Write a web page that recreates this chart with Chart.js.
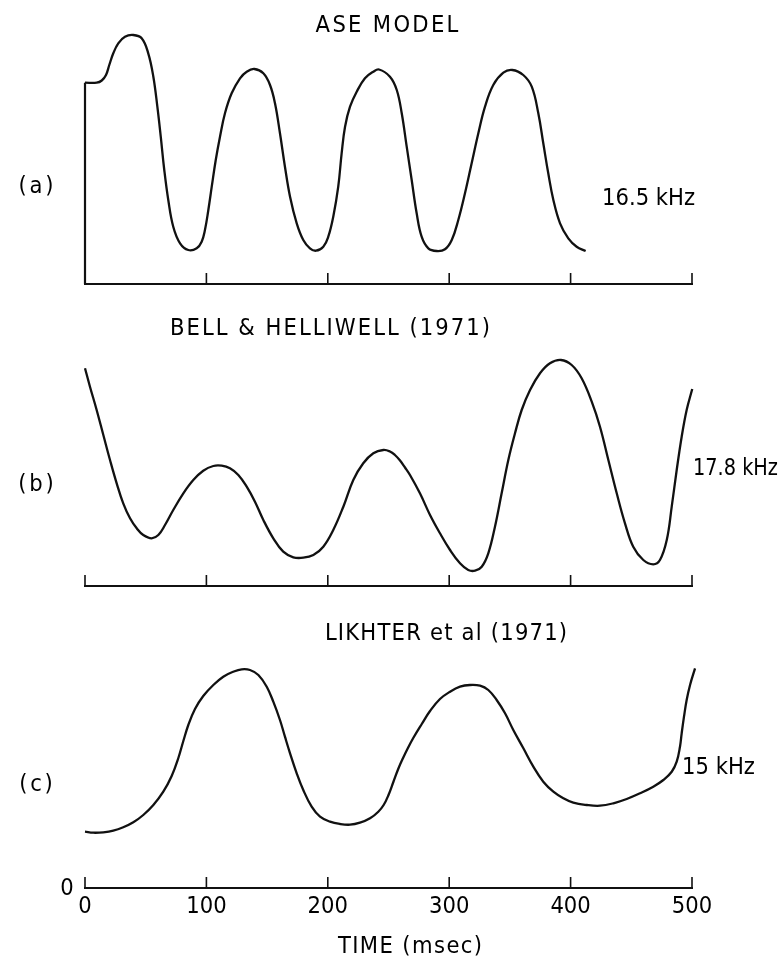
<!DOCTYPE html>
<html>
<head>
<meta charset="utf-8">
<script src="https://cdn.jsdelivr.net/npm/chart.js@4.4.1/dist/chart.umd.min.js"></script>
<style>
  html, body { margin: 0; padding: 0; background: #fff; }
  #wrap { position: relative; width: 779px; height: 957px; background: #fff; overflow: hidden; }
  #wrap canvas { position: absolute; left: 0; }
</style>
</head>
<body>
<div id="wrap">
  <canvas id="cA" width="779" height="300" style="top:0px"></canvas>
  <canvas id="cB" width="779" height="300" style="top:300px"></canvas>
  <canvas id="cC" width="779" height="357" style="top:600px"></canvas>
</div>
<script>
// ---------- DATA (time in msec, frequency trace height in relative units) ----------
const timeTicks = [0, 100, 200, 300, 400, 500];
const tickLabels = ['0', '100', '200', '300', '400', '500'];

// (a) ASE MODEL
const aseStartTime = [0, 0];
const aseStartFreq = [0, 201.3];
const aseTime = [0, 9.6, 13.8, 17.3, 20.0, 23.3, 27.4, 32.9, 39.8,
  46.7, 52.1, 56.3, 59.6, 62.4, 65.3, 68.6, 72.7, 78.3, 85.1,
  92.0, 96.1, 98.8, 101.6, 104.4, 107.7, 111.2, 115.3, 120.8, 127.7, 133.2, 139.5,
  146.9, 152.4, 156.5, 160.6, 164.7, 168.9, 174.4, 179.8, 185.3, 190.3,
  196.3, 200.4, 204.5, 208.6, 211.4, 214.2, 218.3, 223.8, 230.6, 237.5, 242.2,
  251.2, 256.8, 260.9, 265.0, 269.1, 273.2, 277.3, 282.8, 289.7,
  296.5, 302.1, 307.5, 313.0, 318.5, 324.0, 329.5, 336.3, 344.6, 352.0,
  361.0, 368.0, 373.4, 377.5, 381.6, 385.8, 391.3, 398.1, 405.0, 412.4];
const aseFreq = [201.3, 201.3, 203.5, 209, 219, 230.7, 240.7, 247.3, 249,
  245.7, 230.7, 207.3, 177.3, 147.3, 114, 84, 57.3, 40.7, 34,
  35.7, 42.3, 54, 74, 97.3, 124, 147.3, 170.7, 190.7, 205.7, 212.3, 215,
  210.7, 199, 180.7, 150.7, 117.3, 87.3, 60.7, 44, 35.7, 33.3,
  37.3, 47.3, 67.3, 97.3, 130.7, 157.3, 177.3, 192.3, 205.7, 212.3, 214.5,
  207.3, 194, 170.7, 137.3, 104, 70.7, 47.3, 35.7, 33,
  34.7, 44, 64, 90.7, 120.7, 150.7, 177.3, 199, 211.3, 214,
  209, 197.3, 170.7, 140.7, 110.7, 84, 60.7, 45.7, 37.3, 33];

// (b) BELL & HELLIWELL (1971)
const bhTime = [0, 4.1, 9.6, 15.1, 20.6, 26.1, 31.5, 37.1, 42.6, 48.0, 54.9,
  60.4, 65.9, 72.7, 81.0, 89.2, 97.4, 105.7, 112.6, 119.4, 126.3, 133.2, 140.0,
  146.9, 155.1, 163.3, 171.6, 179.8, 188.1, 196.3, 204.5, 212.8, 221.0, 229.2,
  237.5, 245.7, 251.2, 255.3, 259.5, 263.6, 267.7, 275.9, 284.2, 292.4, 300.7, 308.9, 315.7,
  321.3, 326.8, 332.2, 337.7, 343.2, 348.7, 354.2, 359.7, 366.6, 374.8, 383.0,
  392.1, 400.9, 409.1, 417.4, 424.2, 431.1, 438.0, 444.8, 451.6, 459.9, 468.1,
  473.6, 479.2, 483.3, 487.4, 491.5, 495.6, 500.2];
const bhFreq = [217.7, 199.3, 176, 151, 126, 102.7, 82.7, 67.7, 57.7, 51, 47.7,
  51, 61, 76, 92.7, 106, 115.3, 120, 120.3, 117.7, 111, 99.3, 84.3,
  66, 47.7, 34.3, 28.7, 28.3, 31, 39.3, 56, 79.3, 106, 122.7,
  132.7, 136, 134.5, 131, 125.5, 118.5, 111, 92.7, 71, 52.7, 36, 22.7, 16,
  15.3, 19.3, 32.7, 59.3, 92.7, 126, 152.7, 176, 196, 212.7, 222.7,
  226, 221, 207.7, 184.3, 159.3, 126, 92.7, 62.7, 39.3, 26, 21.7,
  26, 46, 79.3, 116, 149.3, 176, 197];

// (c) LIKHTER et al (1971)
const lkTime = [0, 6.8, 15.1, 23.3, 31.5, 39.8, 48.0, 56.3, 64.5, 71.4, 76.9,
  81.0, 85.1, 90.6, 97.4, 105.7, 113.9, 122.2, 129.1, 135.9, 142.8, 149.7,
  155.1, 160.6, 164.7, 168.9, 174.4, 179.8, 186.7, 193.6, 201.8, 210.0, 218.3,
  226.5, 234.8, 241.6, 246.0, 250.0, 254.0, 258.0, 262.0, 266.0, 270.4, 277.4, 284.2, 292.4,
  300.7, 308.9, 317.1, 325.4, 332.2, 339.1, 346.0, 352.8, 361.1, 369.3, 377.5,
  385.8, 394.0, 402.2, 413.3, 424.2, 435.2, 446.2, 457.2, 468.1, 476.4, 483.3,
  487.4, 490.1, 491.5, 493.4, 495.6, 498.4, 502.5];
const lkFreq = [56.3, 55.3, 55.7, 57.3, 60.7, 65.7, 73, 83, 96.3, 112, 130,
  147, 163, 179, 192, 203, 211.3, 216.3, 218.7, 218, 213, 201.3,
  186.3, 168, 151.3, 134.7, 114.7, 98, 81.3, 71.3, 66.3, 64, 63.3,
  65.3, 69.7, 76.3, 83, 93, 106, 119, 130, 140, 150, 164, 177, 189,
  196.3, 201.3, 203, 202.3, 198, 188, 174.7, 158, 139.7, 121.3, 106.3,
  96.3, 89.7, 85.3, 83, 82.3, 84.7, 89, 94.7, 101.3, 108, 116.3,
  126.3, 141.3, 154.7, 171.3, 188, 203, 219.7];

// ---------- helpers ----------
function pts(xs, ys) { return xs.map((x, i) => ({ x: x, y: ys[i] })); }

const FONT_FAMILY = '"DejaVu Sans", "Liberation Sans", sans-serif';
const FONT_SIZE = 23;
const FONT_SX = 0.92;

function drawText(ctx, text, x, yCenter, align, spacing, sx) {
  ctx.save();
  ctx.font = FONT_SIZE + 'px ' + FONT_FAMILY;
  ctx.textAlign = align || 'center';
  ctx.textBaseline = 'alphabetic';
  try { ctx.letterSpacing = (spacing || 0) + 'px'; } catch (e) {}
  ctx.translate(x, yCenter + 8.3);
  ctx.scale(sx || FONT_SX, 1);
  ctx.fillText(text, align === 'center' || !align ? (spacing || 0) / 2 : 0, 0);
  ctx.restore();
}

const panelDecor = {
  id: 'panelDecor',
  afterDatasetsDraw(chart, args, opts) {
    const ctx = chart.ctx;
    const xs = chart.scales.x, ys = chart.scales.y;
    const y0 = ys.getPixelForValue(0);
    ctx.save();
    ctx.strokeStyle = '#111';
    ctx.fillStyle = '#111';
    ctx.lineCap = 'butt';
    // baseline axis
    ctx.lineWidth = 2.2;
    ctx.beginPath();
    ctx.moveTo(xs.getPixelForValue(timeTicks[0]) - 1, y0);
    ctx.lineTo(xs.getPixelForValue(timeTicks[timeTicks.length - 1]) + 1, y0);
    ctx.stroke();
    // upward tick marks
    ctx.lineWidth = 1.6;
    ctx.beginPath();
    opts.ticks.forEach(t => {
      const x = xs.getPixelForValue(t);
      ctx.moveTo(x, y0);
      ctx.lineTo(x, y0 - 11);
    });
    ctx.stroke();
    ctx.restore();
    // tick labels
    if (opts.tickLabels) {
      timeTicks.forEach((t, i) => {
        drawText(ctx, tickLabels[i], xs.getPixelForValue(t), y0 + opts.tickLabelOffset, 'center', 0);
      });
    }
    // free texts
    opts.texts.forEach(t => {
      drawText(ctx, t.text, t.x, t.y - opts.offsetTop, t.align || 'center', t.spacing || 0, t.sx);
    });
  }
};

function makeChart(id, datasets, pad, decor) {
  return new Chart(document.getElementById(id), {
    type: 'line',
    data: { datasets: datasets },
    options: {
      responsive: false,
      animation: false,
      devicePixelRatio: 1,
      layout: { padding: pad },
      scales: {
        x: { type: 'linear', min: 0, max: 500, display: false },
        y: { type: 'linear', min: 0, max: 260, display: false }
      },
      elements: { point: { radius: 0 } },
      plugins: {
        legend: { display: false },
        tooltip: { enabled: false },
        title: { display: false },
        panelDecor: decor
      }
    },
    plugins: [panelDecor]
  });
}

function curve(label, data) {
  return {
    label: label,
    data: data,
    borderColor: '#111',
    borderWidth: 2.3,
    fill: false,
    pointRadius: 0,
    cubicInterpolationMode: 'default',
    tension: 0.4,
    borderJoinStyle: 'round',
    clip: false
  };
}

// (a)
makeChart('cA', [
  { label: 'ASE start', data: pts(aseStartTime, aseStartFreq), borderColor: '#111', borderWidth: 2.2, pointRadius: 0, tension: 0, fill: false, clip: false },
  curve('ASE MODEL', pts(aseTime, aseFreq))
], { left: 85, right: 87, top: 24, bottom: 16 }, {
  offsetTop: 0,
  ticks: [100, 200, 300, 400, 500],
  tickLabels: false,
  texts: [
    { text: 'ASE MODEL', x: 387, y: 24, spacing: 2.5 },
    { text: '(a)', x: 36, y: 185, spacing: 3 },
    { text: '16.5 kHz', x: 602, y: 197, align: 'left' }
  ]
});

// (b)
makeChart('cB', [
  curve('BELL & HELLIWELL (1971)', pts(bhTime, bhFreq))
], { left: 85, right: 87, top: 26, bottom: 14 }, {
  offsetTop: 300,
  ticks: [0, 100, 200, 300, 400, 500],
  tickLabels: false,
  texts: [
    { text: 'BELL & HELLIWELL (1971)', x: 330, y: 327, spacing: 2.2 },
    { text: '(b)', x: 36, y: 483, spacing: 3 },
    { text: '17.8 kHz', x: 693, y: 467, align: 'left', sx: 0.84 }
  ]
});

// (c)
makeChart('cC', [
  curve('LIKHTER et al (1971)', pts(lkTime, lkFreq))
], { left: 85, right: 87, top: 28, bottom: 69 }, {
  offsetTop: 600,
  ticks: [0, 100, 200, 300, 400, 500],
  tickLabels: true,
  tickLabelOffset: 17,
  texts: [
    { text: 'LIKHTER et al (1971)', x: 446, y: 632, spacing: 1.3 },
    { text: '(c)', x: 36, y: 783, spacing: 3 },
    { text: '15 kHz', x: 682, y: 766, align: 'left' },
    { text: '0', x: 67, y: 887 },
    { text: 'TIME (msec)', x: 410, y: 945, spacing: 1.5 }
  ]
});
</script>
</body>
</html>
